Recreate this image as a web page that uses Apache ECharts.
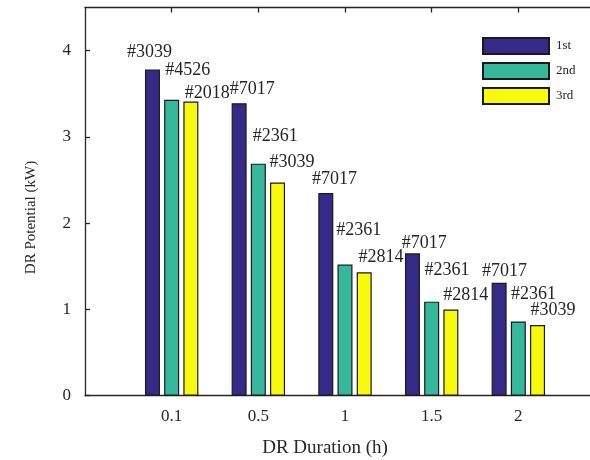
<!DOCTYPE html>
<html>
<head>
<meta charset="utf-8">
<script src="https://cdn.jsdelivr.net/npm/echarts@6/dist/echarts.min.js"></script>
<style>
  html, body { margin: 0; padding: 0; background: #fff; }
  #chart { width: 590px; height: 460px; }
</style>
</head>
<body>
<div id="chart"></div>
<script>
// DR duration categories (h)
const durations = ['0.1', '0.5', '1', '1.5', '2'];
// DR potential (kW) of the 1st, 2nd and 3rd ranked households
const firstKW  = [3.78, 3.39, 2.35, 1.65, 1.31];
const secondKW = [3.43, 2.69, 1.52, 1.09, 0.86];
const thirdKW  = [3.41, 2.47, 1.43, 1.00, 0.82];
// household IDs written above each bar
const firstID  = ['#3039', '#7017', '#7017', '#7017', '#7017'];
const secondID = ['#4526', '#2361', '#2361', '#2361', '#2361'];
const thirdID  = ['#2018', '#3039', '#2814', '#2814', '#3039'];
// y tick values
const yTicks = [0, 1, 2, 3, 4];

// label placement next to each bar: [shift right of bar edge, gap above bar top] in px
const firstShift  = [[-17.3, 10.7], [-1.4, 7.4], [-5.6, 6.7], [-2.5, 3.7], [-9, 5]];
const secondShift = [[1.7, 23.3], [2.6, 20.6], [-0.7, 28], [1, 25], [0.7, 21]];
const thirdShift  = [[2, 1.4], [0, 14], [2.3, 8], [0.6, 7.6], [1, 7.7]];

const FONT = 'Liberation Serif';
const INK = '#262626';
const LABEL_SIZE = 18;

function barData(values, ids, shifts) {
  return values.map((v, i) => ({
    value: [i + 1, v],
    label: {
      formatter: ids[i],
      position: [shifts[i][0] - 0.6, -shifts[i][1] - 0.338 * LABEL_SIZE - 0.6]
    }
  }));
}

function barSeries(name, color, values, ids, shifts) {
  return {
    name: name,
    type: 'bar',
    barWidth: 15,
    barGap: '28%',
    itemStyle: { color: color, borderColor: '#1a1a1a', borderWidth: 1.2 },
    label: {
      show: true,
      align: 'left',
      verticalAlign: 'middle',
      fontFamily: FONT,
      fontSize: LABEL_SIZE,
      color: INK
    },
    data: barData(values, ids, shifts)
  };
}

const axisLine = { show: true, lineStyle: { color: INK, width: 1.3 } };
// the duration axis runs on past the right edge of the canvas
const X_MAX = 6;
const durationTicks = durations.map((d, i) => i + 1);

const chart = echarts.init(document.getElementById('chart'), null, { renderer: 'canvas' });
chart.setOption({
  animation: false,
  backgroundColor: '#fff',
  grid: { left: 85, top: 7.5, right: -15, bottom: 64.3, containLabel: false, outerBoundsMode: 'none' },
  legend: {
    orient: 'vertical',
    left: 482,
    top: 37,
    padding: 0,
    itemWidth: 66,
    itemHeight: 16,
    itemGap: 7,
    icon: 'rect',
    textStyle: { fontFamily: FONT, fontSize: 13, color: INK, padding: [0, 0, 6, 2] },
    data: ['1st', '2nd', '3rd']
  },
  xAxis: [
    {
      type: 'value', position: 'bottom', min: 0, max: X_MAX, interval: 1,
      axisLine: axisLine,
      axisTick: { show: false },
      splitLine: { show: false },
      axisLabel: {
        fontFamily: FONT, fontSize: 17, color: INK, margin: 12,
        formatter: v => durations[v - 1] !== undefined ? durations[v - 1] : ''
      }
    },
    {
      type: 'value', position: 'top', min: 0, max: X_MAX, interval: 1,
      axisLine: axisLine,
      axisTick: {
        show: true, inside: true, length: 5, customValues: durationTicks,
        lineStyle: { color: INK, width: 1.3 }
      },
      splitLine: { show: false },
      axisLabel: { show: false }
    }
  ],
  yAxis: {
    type: 'value', min: 0, max: 4.5, interval: 1,
    axisLine: axisLine,
    axisTick: {
      show: true, inside: true, length: 5, customValues: yTicks,
      lineStyle: { color: INK, width: 1.3 }
    },
    splitLine: { show: false },
    axisLabel: {
      fontFamily: FONT, fontSize: 17, color: INK, margin: 14,
      verticalAlign: 'middle', padding: [0, 0, 12, 0],
      formatter: v => yTicks.indexOf(v) >= 0 ? String(v) : ''
    }
  },
  graphic: [
    {
      type: 'text', x: 31, y: 217.5, rotation: Math.PI / 2,
      style: { text: 'DR Potential (kW)', fontFamily: FONT, fontSize: 15, fill: INK,
               align: 'center', verticalAlign: 'middle' }
    },
    {
      type: 'text', x: 325, y: 448,
      style: { text: 'DR Duration (h)', fontFamily: FONT, fontSize: 19, fill: INK,
               align: 'center', verticalAlign: 'middle' }
    }
  ],
  series: [
    barSeries('1st', '#352a87', firstKW, firstID, firstShift),
    barSeries('2nd', '#36b89d', secondKW, secondID, secondShift),
    barSeries('3rd', '#f8fa0d', thirdKW, thirdID, thirdShift)
  ]
});
</script>
</body>
</html>
